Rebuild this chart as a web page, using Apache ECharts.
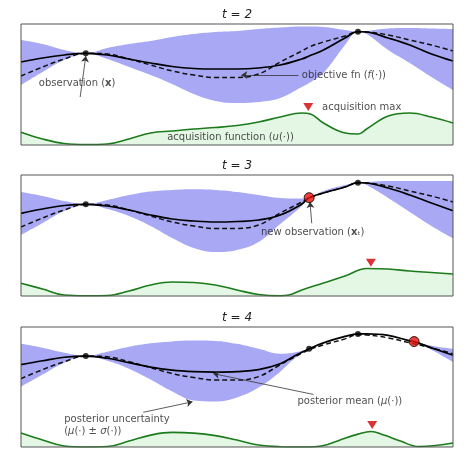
<!DOCTYPE html>
<html><head><meta charset="utf-8">
<script src="https://cdn.jsdelivr.net/npm/echarts@6/dist/echarts.min.js"></script>
<style>html,body{margin:0;padding:0;background:#fff}#c{width:474px;height:460px}</style>
</head><body><div id="c"></div>
<script>
const titles = ['t = 2', 't = 3', 't = 4'];
const xsA = [0,5,10,15,20,25,30,35,40,45,50,55,60,65,66.7,70,75,78,80,85,90,95,100];
const xsB = [0,5,10,15,20,25,30,35,40,45,50,55,60,63,66.7,70,75,78,80,85,90,91,95,100];
const objectiveA = [69,78,86,91.7,91,86,80,74,70,67.5,67.5,71,83,94,98,103,109,113.3,113,110,105,100,94];
const objectiveB = [69,78,86,91.7,91,86,80,74,70,67.5,67.5,71,83,90,98,103,109,113.3,113,110,105,104,100,94];
const mean1 = [83,87,90,91.7,90,86,82,78.5,76.5,76,76,77,80,86,89,95,107,113.3,113,107,100,91,84];
const upper1 = [105,101,95,92,97,101,104,108,111,113,114,116,117.5,118.5,118.5,118,115,113.3,114,116.5,117,116.5,116];
const lower1 = [60,73,85,91.5,86,78,70,61,51,44,42,43,47,58,62,72,100,113.3,111,95,82,68,55];
const mean2 = [82.7,87,90.5,91.7,90,86,81,77,75,74,74.5,76,81,92,98.3,103,109,113.3,113,108,101,93,85.3];
const upper2 = [104,100,95,92,96,101,104.5,106,106.7,106,104,101,98,97.5,98.3,105,111,113.3,114,115,115,115,115];
const lower2 = [61,73,85,91.5,87,80,70,58,48,44,46,54,72,90,98.3,102,109,113.3,111,98,84,70,57.7];
const mean3 = [83,87,90.5,91.7,89.5,85,80.5,77.5,76,75.5,76,78,84,91,99,105,111.5,114,114,112.5,107,106.3,100,92.5];
const upper3 = [104,100,95,92,96,101,104.5,106.5,107.3,107,104,99,94,95,99,105,111.5,114,114,112.5,107,106.3,102,99];
const lower3 = [60.7,73,85,91.5,87,79,68,56,47,46,50,60,76,88,99,105,111.5,114,114,112.5,107,106.3,98,85.7];
const acq1X = [0,5,10,15,20,25,30,35,40,45,50,55,60,65,67,70,75,78,80,85,90,95,100];
const acq1Y = [12.7,6,1.5,0.5,1,6,12,14,16,17.5,19.5,23,28,32,31,22,12,11,16,29,32,28,22];
const acq2X = [0,5,10,15,20,25,30,35,40,45,50,55,60,62,65,70,75,80,85,90,95,100];
const acq2Y = [12.7,7,1,0.3,0.5,5,11,14,13.5,11,6,1.5,0.3,1,6,13,20,27.5,27,25,23.5,22];
const acq3X = [0,5,10,15,20,25,30,35,40,45,50,55,60,65,68,71,74,78,81,84,88,92,96,100];
const acq3Y = [14,7,1,0,0.5,6,12,14.7,14,11.5,7,2,0.3,0,0.3,2.5,7.3,13,15.7,12,5.7,0.5,1.5,4];
const obsBlack = [[[15,91.7],[78,113.3]], [[15,91.7],[78,113.3]], [[15,91.7],[66.7,99],[78,114]]];
const obsRed = [[], [[66.7,98.3]], [[91,106.3]]];
const acqMax = [[66.5,38],[81,33.3],[81.3,22.3]];

const panels = [
  {xs:xsA, f:objectiveA, mu:mean1, up:upper1, lo:lower1, ax:acq1X, ay:acq1Y},
  {xs:xsA, f:objectiveA, mu:mean2, up:upper2, lo:lower2, ax:acq2X, ay:acq2Y},
  {xs:xsB, f:objectiveB, mu:mean3, up:upper3, lo:lower3, ax:acq3X, ay:acq3Y}
];
const tops = [24, 175, 327];
const zip = (a,b)=>a.map((v,i)=>[v,b[i]]);
const rich = {b:{fontWeight:'bold',fontSize:10,color:'#222'}, i:{fontStyle:'italic',fontSize:10,color:'#222'}, n:{fontSize:10,color:'#222'}};
const notes = [
  [{x:13,y:62,t:'{n|observation (}{b|x}{n|)}',a:'center'},
   {x:65,y:70,t:'{n|objective fn (}{i|f}{n|(·))}',a:'left'},
   {x:69.7,y:38,t:'{n|acquisition max}',a:'left'},
   {x:48.5,y:8,t:'{n|acquisition function (}{i|u}{n|(·))}',a:'center'}],
  [{x:67.5,y:63.7,t:'{n|new observation (}{b|x}{n|ₜ)}',a:'center'}],
  [{x:64,y:45.6,t:'{n|posterior mean (}{i|μ}{n|(·))}',a:'left'},
   {x:10,y:28,t:'{n|posterior uncertainty}',a:'left'},
   {x:10,y:16,t:'{n|(}{i|μ}{n|(·) ± }{i|σ}{n|(·))}',a:'left'}]
];
const arrows = [
  [[[13.7,48],[15,89]], [[64.2,70],[51,70]]],
  [[[67.3,72.7],[66.9,94]]],
  [[[67.7,53],[44.5,74]], [[28.3,35],[39.7,45.6]]]
];

const grid=[], xAxis=[], yAxis=[], series=[], title=[];
panels.forEach((p,k)=>{
  grid.push({left:21,right:21,top:tops[k],height:k==2?120:121,show:true,z:10,borderColor:'#555',borderWidth:1,backgroundColor:'rgba(0,0,0,0)'});
  xAxis.push({type:'value',gridIndex:k,min:0,max:100,show:false});
  yAxis.push({type:'value',gridIndex:k,min:0,max:121,show:false});
  title.push({text:titles[k],left:'center',top:tops[k]-20,textStyle:{fontSize:12,fontWeight:'normal',fontStyle:'italic',color:'#222',fontFamily:'DejaVu Sans'}});
  const base={xAxisIndex:k,yAxisIndex:k,silent:true,animation:false};
  series.push({...base,type:'line',data:zip(p.xs,p.up),smooth:0.4,symbol:'none',lineStyle:{opacity:0},areaStyle:{color:'#a8a8f4',opacity:1,origin:'start'},z:1});
  series.push({...base,type:'line',data:zip(p.xs,p.lo),smooth:0.4,symbol:'none',lineStyle:{opacity:0},areaStyle:{color:'#ffffff',opacity:1,origin:'start'},z:1});
  series.push({...base,type:'line',data:zip(p.ax,p.ay),smooth:0.4,symbol:'none',lineStyle:{color:'#1c7c1c',width:1.6},areaStyle:{color:'#e4f6e4',opacity:1,origin:'start'},z:2});
  series.push({...base,type:'line',data:zip(p.xs,p.f),smooth:0.4,symbol:'none',lineStyle:{color:'#111',width:1.5,type:[5,3]},z:3});
  series.push({...base,type:'line',data:zip(p.xs,p.mu),smooth:0.4,symbol:'none',lineStyle:{color:'#000',width:1.7},z:3});
  series.push({...base,type:'lines',coordinateSystem:'cartesian2d',data:arrows[k].map(c=>({coords:c})),symbol:['none','arrow'],symbolSize:6,lineStyle:{color:'#333',width:0.8,opacity:1},z:4});
  series.push({...base,type:'scatter',data:obsBlack[k],symbolSize:6,itemStyle:{color:'#000'},z:6});
  series.push({...base,type:'scatter',data:obsRed[k],symbolSize:10,itemStyle:{color:'#e8100c',borderColor:'#000',borderWidth:1},z:6});
  series.push({...base,type:'scatter',data:[acqMax[k]],symbol:'triangle',symbolRotate:180,symbolSize:[10,8],itemStyle:{color:'#d00000'},z:6});
  series.push({...base,type:'scatter',symbolSize:0,z:7,labelLayout:{hideOverlap:false},data:notes[k].map(n=>({value:[n.x,n.y],label:{show:true,position:'inside',align:n.a,verticalAlign:'middle',formatter:n.t,rich,fontFamily:'DejaVu Sans'}}))});
});
const chart=echarts.init(document.getElementById('c'));
chart.setOption({animation:false,textStyle:{fontFamily:'DejaVu Sans'},title,grid,xAxis,yAxis,series});
</script></body></html>
